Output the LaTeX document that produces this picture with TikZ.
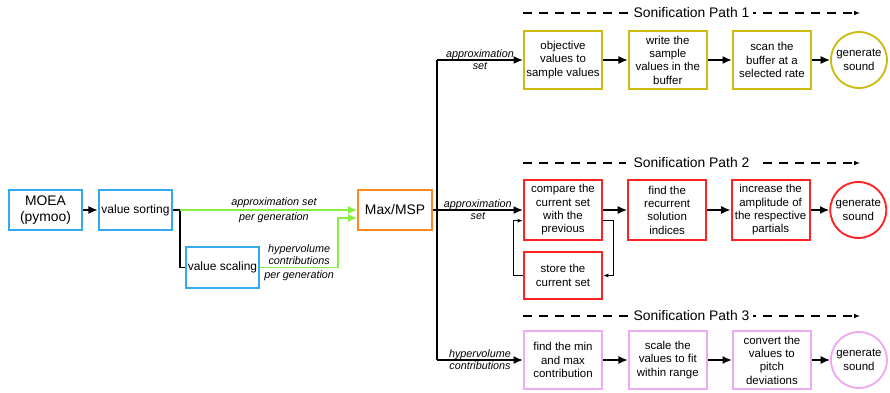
\documentclass[tikz,border=0pt]{standalone}
\usepackage{fontspec}
\setmainfont{Liberation Sans}
\usetikzlibrary{arrows.meta, positioning}

\definecolor{moeablue}{HTML}{33AAEE}
\definecolor{msporange}{HTML}{FF8822}
\definecolor{pathone}{HTML}{CCBB11}
\definecolor{pathtwo}{HTML}{FF2222}
\definecolor{paththree}{HTML}{EEAAEE}
\definecolor{gengreen}{HTML}{88EE44}

\begin{document}
\begin{tikzpicture}[x=0.75pt, y=-0.75pt, line width=1.1pt, node distance=18.5pt,
    >={Latex[length=7pt,width=6pt]},
    every node/.style={font=\fontsize{8.6}{10}\selectfont},
    box/.style={draw, line width=1.6pt, rectangle, align=center, inner xsep=0.5pt, inner ysep=1pt,
        minimum width=58.5pt, minimum height=43pt},
    leftbox/.style={box, draw=moeablue, minimum width=55pt, minimum height=30.5pt},
    sound/.style={draw, line width=1.4pt, circle, align=center, inner sep=0pt, minimum size=42pt},
    lbl/.style={font=\fontsize{8.1}{9.2}\selectfont\itshape, align=center, inner sep=1.5pt},
    pathtitle/.style={font=\fontsize{10.4}{12}\selectfont, fill=white, inner xsep=3pt, inner ysep=1pt},
    pathline/.style={line width=0.8pt, dash pattern=on 6.5pt off 5.5pt, -{Latex[length=4.5pt,width=3.5pt]}},
    looparrow/.style={line width=0.8pt, -{Latex[length=4pt,width=3pt]}}]
    \useasboundingbox (0,0) rectangle (890,393);

    % Optimiser side
    \node[leftbox, font=\fontsize{10.4}{12}\selectfont] (moea) at (45.5,210) {MOEA\\(pymoo)};
    \node[leftbox, font=\fontsize{9}{11}\selectfont] (sorting) at (135.5,210) {value sorting};
    \node[leftbox, font=\fontsize{9}{11}\selectfont] (scaling) at (222.5,267.5) {value scaling};
    \node[leftbox, draw=msporange, font=\fontsize{10.4}{12}\selectfont] (msp) at (395,210) {Max/MSP};
    \coordinate (sortout) at (180,210);
    \coordinate (hvbend) at (338,267.5);
    \draw[->] (moea) -- (sorting);
    \draw (sorting.east) -- (sortout);
    \draw (sortout) |- (scaling.west);
    \draw[gengreen, ->] (sortout) -- (msp.west)
        node[lbl, text=black, pos=0.53, above] (apxlbl) {approximation set}
        node[lbl, text=black, pos=0.53, below] (apxgen) {per generation};
    \draw[gengreen] (scaling.east) -- (hvbend)
        node[lbl, text=black, midway, above] (hvlbl) {hypervolume\\contributions}
        node[lbl, text=black, midway, below] (hvgen) {per generation};
    \draw[gengreen, ->] (hvbend) |- ([yshift=-6pt]msp.west);

    % Split into the three paths
    \coordinate (split1) at (437,60);
    \coordinate (split3) at (437,360);
    \draw[line width=1.3pt] (split1) -- (split3);

    % Sonification path 1
    \node[box, draw=pathone] (p1a) at (563,60) {objective\\values to\\sample values};
    \node[box, draw=pathone, right=of p1a] (p1b) {write the\\sample\\values in the\\buffer};
    \node[box, draw=pathone, right=18pt of p1b] (p1c) {scan the\\buffer at a\\selected rate};
    \node[sound, draw=pathone, right=13.5pt of p1c] (p1snd) {generate\\sound};
    \draw[->] (split1) -- (p1a) node[lbl, midway] (p1lbl) {approximation\\set};
    \draw[->] (p1a) -- (p1b);
    \draw[->] (p1b) -- (p1c);
    \draw[->] (p1c) -- (p1snd);
    \coordinate (t1s) at (523,13);
    \coordinate (t1e) at (860,13);
    \draw[pathline] (t1s) -- (t1e) node[pathtitle, midway] (t1) {Sonification Path 1};

    % Sonification path 2
    \node[box, draw=pathtwo, minimum height=45pt] (p2a) at (563,210) {compare the\\current set\\with the\\previous};
    \node[box, draw=pathtwo, minimum height=45pt, right=18pt of p2a] (p2b) {find the\\recurrent\\solution\\indices};
    \node[box, draw=pathtwo, minimum height=45pt, right=17.5pt of p2b] (p2c) {increase the\\amplitude of\\the respective\\partials};
    \node[sound, draw=pathtwo, right=14pt of p2c] (p2snd) {generate\\sound};
    \node[box, draw=pathtwo, minimum height=35pt] (store) at (563,275.5) {store the\\current set};
    \draw[->] (msp) -- (p2a) node[lbl, pos=0.5] (p2lbl) {approximation\\set};
    \draw[->] (p2a) -- (p2b);
    \draw[->] (p2b) -- (p2c);
    \draw[->] (p2c) -- (p2snd);
    \draw[looparrow] ([yshift=-8pt]p2a.east) -- ++(7.5pt,0) |- (store.east);
    \draw[looparrow] (store.west) -- ++(-7pt,0) |- ([yshift=-8pt]p2a.west);
    \coordinate (t2s) at (523,163);
    \coordinate (t2e) at (860,163);
    \draw[pathline] (t2s) -- (t2e) node[pathtitle, midway, inner xsep=6pt] (t2) {Sonification Path 2};

    % Sonification path 3
    \node[box, draw=paththree] (p3a) at (563,360) {find the min\\and max\\contribution};
    \node[box, draw=paththree, right=of p3a] (p3b) {scale the\\values to fit\\within range};
    \node[box, draw=paththree, right=18pt of p3b] (p3c) {convert the\\values to\\pitch\\deviations};
    \node[sound, draw=paththree, right=13.5pt of p3c] (p3snd) {generate\\sound};
    \draw[->] (split3) -- (p3a) node[lbl, midway] (p3lbl) {hypervolume\\contributions};
    \draw[->] (p3a) -- (p3b);
    \draw[->] (p3b) -- (p3c);
    \draw[->] (p3c) -- (p3snd);
    \coordinate (t3s) at (523,316);
    \coordinate (t3e) at (860,316);
    \draw[pathline] (t3s) -- (t3e) node[pathtitle, midway] (t3) {Sonification Path 3};
\end{tikzpicture}
\end{document}
